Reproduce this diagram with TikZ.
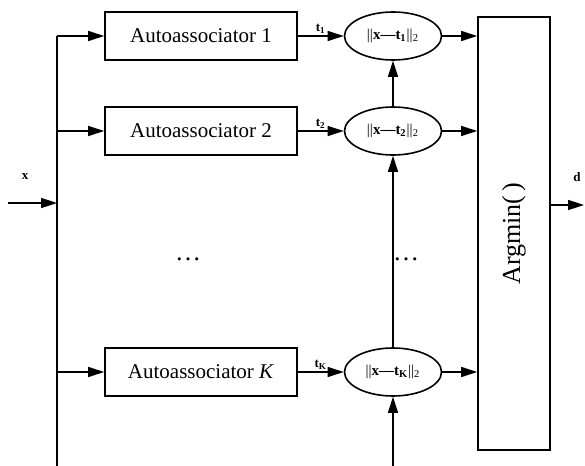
\documentclass[tikz,border=0pt]{standalone}
\usepackage{fontspec}
\setmainfont{Liberation Serif}
\usetikzlibrary{arrows.meta,positioning,shapes.geometric}
\tikzset{
  box/.style={draw, rectangle, minimum width=96pt, minimum height=24pt, inner sep=2pt, font=\fontsize{10.5}{12}\selectfont},
  dist/.style={draw, ellipse, minimum width=48.5pt, minimum height=24pt, inner sep=0pt, font=\fontsize{7.5}{9}\selectfont},
  arr/.style={-{Triangle[length=8pt,width=5pt]}},
  lbl/.style={font=\bfseries\fontsize{6.5}{8}\selectfont, inner sep=1pt},
  dots/.style={font=\fontsize{13}{14}\selectfont, inner sep=0pt},
}

\begin{document}
\begin{tikzpicture}[x=0.5pt, y=-0.5pt, line width=0.8pt]
\useasboundingbox (0,0) rectangle (585,466);
% autoassociators
\node[box] (a1) at (201,36) {Autoassociator 1};
\node[box] (a2) at (201,131) {Autoassociator 2};
\node[box] (ak) at (201,372) {Autoassociator \textit{K}};
\node[dots] (dl) at (188,259) {\dots};
% distances
\node[dist] (e1) at (393,36) {||\textbf{x---t\textsubscript{1}}||\textsubscript{2}};
\node[dist] (e2) at (393,131) {||\textbf{x---t\textsubscript{2}}||\textsubscript{2}};
\node[dist] (ek) at (393,372) {||\textbf{x---t\textsubscript{K}}||\textsubscript{2}};
\node[dots] (dr) at (406,259) {\dots};
% argmin
\node[draw, minimum width=36pt, minimum height=216.5pt, inner sep=0pt] (am) at (514,233.5) {};
\node[rotate=90, font=\fontsize{13}{15}\selectfont] (amtxt) at (am.center) {Argmin(\,)};
% input bus
\coordinate (top) at (57,36);
\coordinate (bot) at (57,466);
\coordinate (xin) at (8,203);
\coordinate (feed) at (393,466);
\coordinate (dout) at (584,205);
\node[lbl] (xl) at (25,177) {x};
\node[lbl] (dl2) at (577,177) {d};
\draw (top) -- (bot);
\draw[arr] (xin) -- (top |- xin);
\draw[arr] (top) -- (a1);
\draw[arr] (top |- a2) -- (a2);
\draw[arr] (top |- ak) -- (ak);
% to distances
\draw[arr] (a1) -- node[lbl, above] {t\textsubscript{1}} (e1);
\draw[arr] (a2) -- node[lbl, above] {t\textsubscript{2}} (e2);
\draw[arr] (ak) -- node[lbl, above] {t\textsubscript{K}} (ek);
\draw[arr] (e2) -- (e1);
\draw[arr] (ek) -- (e2);
\draw[arr] (feed) -- (ek);
% to argmin
\draw[arr] (e1) -- (e1 -| am.west);
\draw[arr] (e2) -- (e2 -| am.west);
\draw[arr] (ek) -- (ek -| am.west);
\draw[arr] (am.east |- dout) -- (dout);
\end{tikzpicture}
\end{document}
